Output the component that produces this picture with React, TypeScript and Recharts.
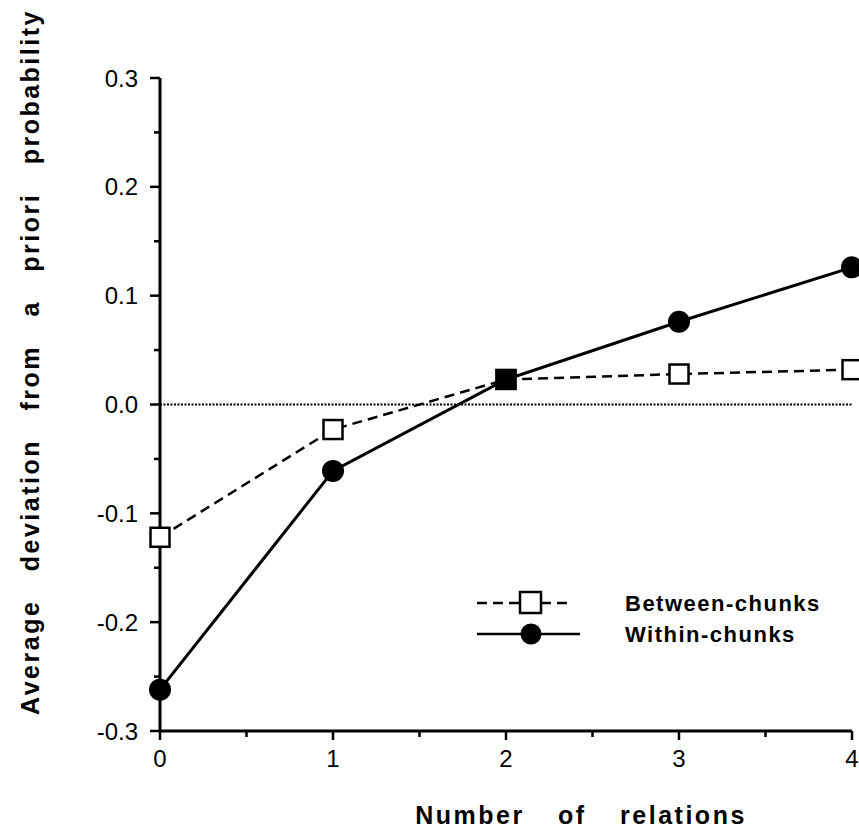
import React from "react";
import {
  LineChart,
  Line,
  XAxis,
  YAxis,
  ReferenceLine,
  Legend,
  Label,
} from "recharts";

// number of relations
const relations = [0, 1, 2, 3, 4];
// average deviation from a priori probability
const betweenChunks = [-0.122, -0.023, 0.023, 0.028, 0.032];
const withinChunks = [-0.262, -0.061, 0.023, 0.076, 0.126];

const xTicks = [0, 0.5, 1, 1.5, 2, 2.5, 3, 3.5, 4];
const yTicks = [-0.3, -0.25, -0.2, -0.15, -0.1, -0.05, 0, 0.05, 0.1, 0.15, 0.2, 0.25, 0.3];

const data = relations.map((r, i) => ({
  relations: r,
  between: betweenChunks[i],
  within: withinChunks[i],
}));

const FONT = "'Liberation Sans', Arial, Helvetica, sans-serif";

const isMajor = (v: number, step: number) =>
  Math.abs(v / step - Math.round(v / step)) < 1e-6;

const fmtY = (v: number) => {
  const s = v.toFixed(1);
  return s === "-0.0" ? "0.0" : s;
};

function YTick(props: any) {
  const { x, y, payload } = props;
  const major = isMajor(payload.value, 0.1);
  return (
    <g>
      <line x1={x - (major ? 10 : 6)} y1={y} x2={x} y2={y} stroke="#000" strokeWidth={2.5} />
      {major && (
        <text
          x={x - 22}
          y={y}
          textAnchor="end"
          dominantBaseline="central"
          fontFamily={FONT}
          fontSize={24}
          fill="#000"
        >
          {fmtY(payload.value)}
        </text>
      )}
    </g>
  );
}

function XTick(props: any) {
  const { x, y, payload } = props;
  const major = isMajor(payload.value, 1);
  return (
    <g>
      <line x1={x} y1={y} x2={x} y2={y + (major ? 9 : 6)} stroke="#000" strokeWidth={2.5} />
      {major && (
        <text
          x={x}
          y={y + 27}
          textAnchor="middle"
          dominantBaseline="central"
          fontFamily={FONT}
          fontSize={24}
          fill="#000"
        >
          {payload.value}
        </text>
      )}
    </g>
  );
}

function SquareDot(props: any) {
  const { cx, cy } = props;
  if (cx == null || cy == null) return null;
  return (
    <rect x={cx - 9.5} y={cy - 9.5} width={19} height={19} fill="#fff" stroke="#000" strokeWidth={2.5} />
  );
}

function CircleDot(props: any) {
  const { cx, cy, index } = props;
  if (cx == null || cy == null) return null;
  // where both series coincide the marker prints as a filled square
  if (index === 2) {
    return <rect x={cx - 10.5} y={cy - 10.5} width={21} height={21} fill="#000" />;
  }
  return <circle cx={cx} cy={cy} r={11} fill="#000" />;
}

function LegendBox() {
  const text = {
    fontFamily: FONT,
    fontSize: 22,
    fontWeight: 700,
    letterSpacing: 1.5,
    fill: "#000",
  } as const;
  return (
    <svg width={380} height={80}>
      <line x1={7} y1={18} x2={100} y2={18} stroke="#000" strokeWidth={2.5} strokeDasharray="10 6" />
      <rect x={50} y={7} width={21} height={21} fill="#fff" stroke="#000" strokeWidth={2.5} />
      <text x={155} y={18} dominantBaseline="central" {...text}>
        Between-chunks
      </text>
      <line x1={7} y1={49} x2={110} y2={49} stroke="#000" strokeWidth={2.5} />
      <circle cx={61} cy={49} r={10.5} fill="#000" />
      <text x={155} y={49} dominantBaseline="central" {...text}>
        Within-chunks
      </text>
    </svg>
  );
}

const titleStyle = {
  fontFamily: FONT,
  fontSize: 25,
  fontWeight: 700,
  letterSpacing: 2.5,
  fill: "#000",
} as const;

function YTitle() {
  return (
    <text
      x={30}
      y={362}
      textAnchor="middle"
      dominantBaseline="central"
      transform="rotate(-90 30 362)"
      wordSpacing={19}
      {...titleStyle}
    >
      Average deviation from a priori probability
    </text>
  );
}

function XTitle() {
  return (
    <text x={581} y={815} textAnchor="middle" dominantBaseline="central" wordSpacing={24} {...titleStyle}>
      Number of relations
    </text>
  );
}

export default function App() {
  return (
    <div style={{ position: "absolute", left: 0, top: 0, background: "#fff" }}>
      <LineChart
        width={859}
        height={836}
        data={data}
        margin={{ top: 78, right: 7, bottom: 0, left: 0 }}
      >
        <XAxis
          dataKey="relations"
          type="number"
          domain={[0, 4]}
          ticks={xTicks}
          interval={0}
          tick={<XTick />}
          tickLine={false}
          tickSize={0}
          tickMargin={0}
          axisLine={{ stroke: "#000", strokeWidth: 3 }}
          height={105}
        >
          <Label content={<XTitle />} />
        </XAxis>
        <YAxis
          type="number"
          domain={[-0.3, 0.3]}
          ticks={yTicks}
          interval={0}
          width={160}
          tick={<YTick />}
          tickLine={false}
          tickSize={0}
          tickMargin={0}
          axisLine={{ stroke: "#000", strokeWidth: 3 }}
          allowDataOverflow
        >
          <Label content={<YTitle />} />
        </YAxis>
        <ReferenceLine y={0} stroke="#000" strokeWidth={2} strokeDasharray="2 1.5" />
        <Legend
          layout="horizontal"
          verticalAlign="middle"
          align="center"
          content={<LegendBox />}
          wrapperStyle={{ left: 470, top: 585, width: 380, height: 80 }}
        />
        <Line
          dataKey="between"
          name="Between-chunks"
          stroke="#000"
          strokeWidth={2.5}
          strokeDasharray="10 6"
          dot={<SquareDot />}
          activeDot={false}
          isAnimationActive={false}
        />
        <Line
          dataKey="within"
          name="Within-chunks"
          stroke="#000"
          strokeWidth={3}
          dot={<CircleDot />}
          activeDot={false}
          isAnimationActive={false}
        />
      </LineChart>
    </div>
  );
}
